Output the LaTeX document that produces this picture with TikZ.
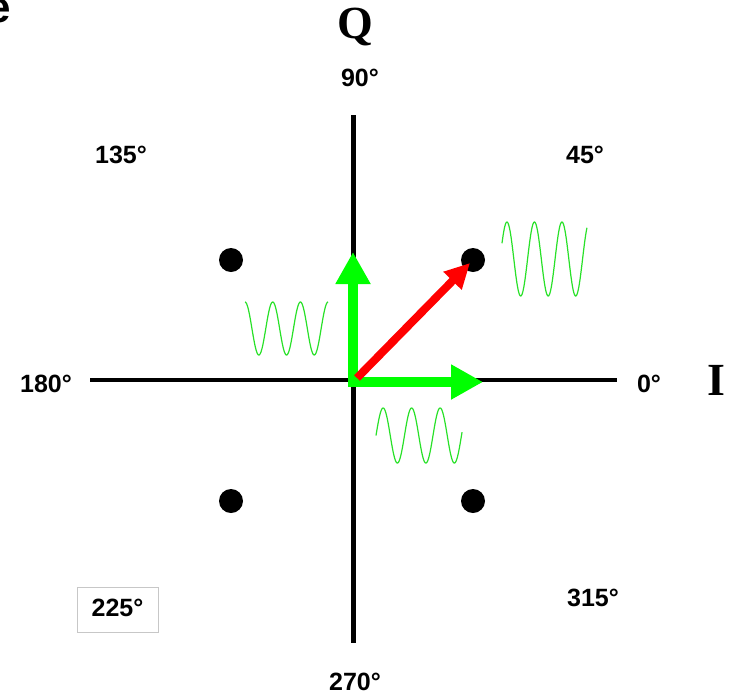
\documentclass[tikz,border=0pt]{standalone}
\usepackage{fontspec}
\setmainfont{Liberation Sans}
\newfontfamily\serifbold{Liberation Serif}
\usetikzlibrary{arrows.meta}
\definecolor{vgreen}{RGB}{0,255,0}
\definecolor{wgreen}{RGB}{40,225,40}
\definecolor{vred}{RGB}{255,0,0}
\tikzset{
  deg/.style={font=\fontsize{25}{30}\selectfont\bfseries, inner sep=0pt},
  axlabel/.style={font=\fontsize{46}{50}\selectfont\serifbold\bfseries, inner sep=0pt},
  axisline/.style={line width=4.5pt, black},
  dot/.style={circle, fill=black, minimum size=24pt, inner sep=0pt},
  garrow/.style={vgreen, line width=10pt, -{Triangle[length=32pt,width=33pt]}},
  rarrow/.style={vred, line width=8pt, -{Triangle[length=25pt,width=24pt]}},
  wave/.style={wgreen, line width=1.2pt},
  boxed/.style={draw=black!22, line width=1pt, minimum width=81pt, minimum height=45pt}
}
\begin{document}
\begin{tikzpicture}[x=1pt,y=-1pt]
\useasboundingbox (0,0) rectangle (737,697);
\fill[white] (0,0) rectangle (737,697);
% panel letter (partly cut off, as in the reference)
\node[font=\fontsize{44}{48}\selectfont\bfseries, inner sep=0pt] (e) at (-1,11) {e};
% axes
\coordinate (xl) at (90,380);
\coordinate (xr) at (617,380);
\coordinate (yt) at (353.5,115);
\coordinate (yb) at (353.5,643);
\draw[axisline] (xl) -- (xr);
\draw[axisline] (yt) -- (yb);
% constellation points
\node[dot] (p135) at (231,260) {};
\node[dot] (p45) at (473,260) {};
\node[dot] (p225) at (231,501) {};
\node[dot] (p315) at (473,501) {};
% vectors
\coordinate (ov) at (353,387);
\coordinate (oh) at (348,382);
\coordinate (tq) at (353,252);
\coordinate (ti) at (483,382);
\coordinate (or) at (357,378);
\coordinate (tr) at (470,263);
\draw[garrow] (ov) -- (tq);
\draw[garrow] (oh) -- (ti);
\draw[rarrow] (or) -- (tr);
% waves
\draw[wave] plot[domain=0:3, samples=150, smooth] ({245+27.7*\x},{328.5-26.5*cos(360*\x)});
\draw[wave] plot[domain=0:3.02, samples=150, smooth] ({376+28.5*\x},{435.5-27.5*sin(360*\x)});
\draw[wave] plot[domain=0.07:3.16, samples=150, smooth] ({502+27.5*(\x-0.07)},{259-37*sin(360*\x)});
% labels
\node[axlabel] (Q) at (355,27) {Q};
\node[axlabel] (I) at (716,380) {I};
\node[deg] (d90) at (360,78) {90°};
\node[deg] (d135) at (121,155) {135°};
\node[deg] (d45) at (585,155) {45°};
\node[deg] (d180) at (46,384) {180°};
\node[deg] (d0) at (649,384) {0°};
\node[boxed] (b225) at (117.5,609.5) {};
\node[deg] (d225) at (117.5,608) {225°};
\node[deg] (d315) at (593,598) {315°};
\node[deg] (d270) at (355,682) {270°};
\end{tikzpicture}
\end{document}
